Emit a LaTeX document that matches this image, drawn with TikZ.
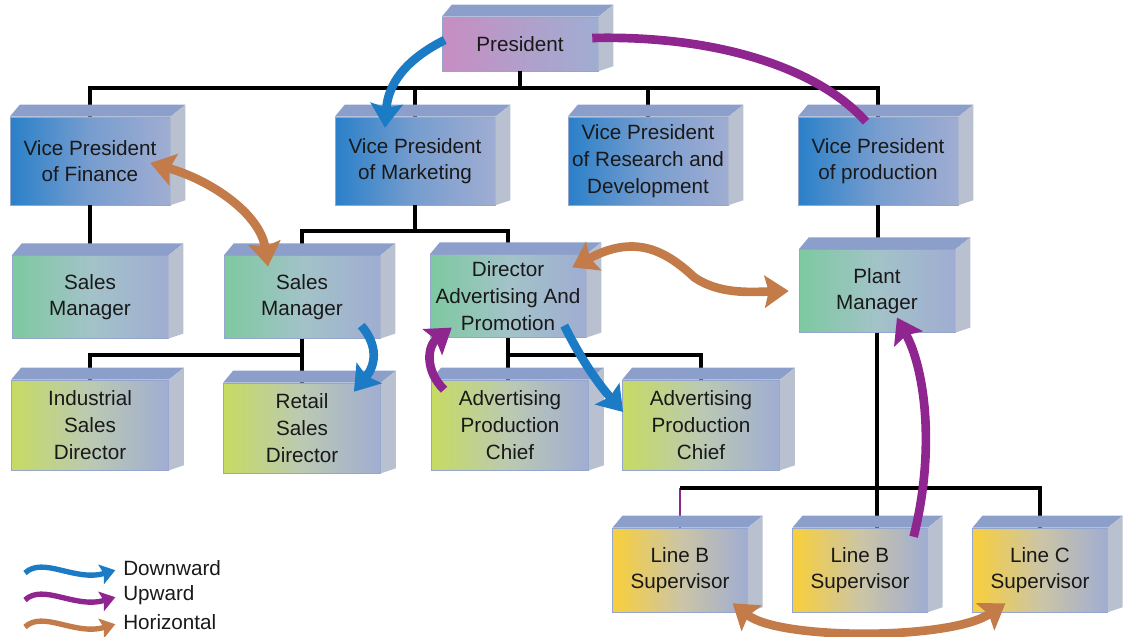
\documentclass[tikz,border=0pt]{standalone}
\usepackage{fontspec}
\setmainfont{Liberation Sans}
\usetikzlibrary{arrows.meta,calc}
\definecolor{facetop}{HTML}{8C9FCB}
\definecolor{faceside}{HTML}{B9C1D1}
\definecolor{faceright}{HTML}{A0ADD2}
\definecolor{faceedge}{HTML}{95A6CE}
\definecolor{presleft}{HTML}{C78DC1}
\definecolor{vpleft}{HTML}{2A80C9}
\definecolor{mgrleft}{HTML}{7DC9A0}
\definecolor{dirleft}{HTML}{C6DB62}
\definecolor{supleft}{HTML}{F8CF3A}
\definecolor{downblue}{HTML}{1B7BC4}
\definecolor{uppurple}{HTML}{8F2690}
\definecolor{sideorange}{HTML}{C27B49}
\tikzset{
  orgbox/.style={draw=faceedge, line width=0.4pt, align=center, inner sep=0pt,
    font=\fontsize{15.5}{20}\selectfont, text=black!90},
  presbox/.style={orgbox, left color=presleft, right color=faceright,
    middle color=presleft!45!faceright, minimum width=117pt, minimum height=40.5pt},
  vpbox/.style={orgbox, left color=vpleft, right color=faceright,
    middle color=vpleft!35!faceright, minimum width=120pt, minimum height=66pt},
  mgrbox/.style={orgbox, left color=mgrleft, right color=faceright,
    middle color=mgrleft!40!faceright!85!white, minimum width=117pt, minimum height=62pt},
  dirbox/.style={orgbox, left color=dirleft, right color=faceright,
    middle color=dirleft!40!faceright!85!white, minimum width=118pt, minimum height=67.5pt},
  supbox/.style={orgbox, left color=supleft, right color=faceright,
    middle color=supleft!40!faceright!85!white, minimum width=101pt, minimum height=63pt},
  wire/.style={line width=2.3pt, black},
  flow/.style={line width=6.5pt, -{Stealth[length=18pt, width=24pt, inset=3pt]}},
  flowboth/.style={line width=6.5pt,
    {Stealth[length=18pt, width=24pt, inset=3pt]}-{Stealth[length=18pt, width=24pt, inset=3pt]}},
  keyarrow/.style={line width=4pt, -{Stealth[length=11pt, width=15pt, inset=2pt]}, shorten >=6pt},
  keylabel/.style={anchor=west, inner sep=0pt, font=\fontsize{15.5}{20}\selectfont, text=black!90}
}

\begin{document}
\begin{tikzpicture}[x=0.75pt, y=-0.75pt]
  \useasboundingbox (0,0) rectangle (1139,636);

  \node[presbox] (pres) at (520,44) {President};
  \node[vpbox] (vpf) at (90,161) {Vice President\\of Finance};
  \node[vpbox] (vpm) at (415,161) {Vice President\\of Marketing};
  \node[vpbox] (vpr) at (648,161) {Vice President\\of Research and\\Development};
  \node[vpbox] (vpp) at (878,161) {Vice President\\of production};
  \node[mgrbox] (sml) at (90,297) {Sales\\Manager};
  \node[mgrbox] (smm) at (302,297) {Sales\\Manager};
  \node[mgrbox] (dap) at (508,296) {Director\\Advertising And\\Promotion};
  \node[mgrbox] (plant) at (877,291) {Plant\\Manager};
  \node[dirbox] (isd) at (90,425) {Industrial\\Sales\\Director};
  \node[dirbox] (rsd) at (302,428) {Retail\\Sales\\Director};
  \node[dirbox] (apc1) at (510,425) {Advertising\\Production\\Chief};
  \node[dirbox] (apc2) at (701,425) {Advertising\\Production\\Chief};
  \node[supbox] (lb1) at (680,570) {Line B\\Supervisor};
  \node[supbox] (lb2) at (860,570) {Line B\\Supervisor};
  \node[supbox] (lc) at (1040,570) {Line C\\Supervisor};

  % reporting lines
  \coordinate (bus1) at (0,88);
  \coordinate (bus2) at (0,231);
  \coordinate (bus3) at (0,355);
  \coordinate (bus4) at (0,488);
  \draw[wire] (pres.south) -- (pres.south |- bus1);
  \draw[wire] (vpf.north) |- (bus1 -| vpp.north) -- (vpp.north);
  \draw[wire] (vpm.north) -- (vpm.north |- bus1);
  \draw[wire] (vpr.north) -- (vpr.north |- bus1);
  \draw[wire] (vpf.south) -- (sml.north);
  \draw[wire] (vpm.south) -- (vpm.south |- bus2);
  \draw[wire] (smm.north) |- (bus2 -| dap.north) -- (dap.north);
  \draw[wire] (smm.south) -- (rsd.north);
  \draw[wire] (isd.north) |- (bus3 -| smm.south);
  \draw[wire] (dap.south) -- (dap.south |- apc1.north);
  \draw[wire] (dap.south |- bus3) -| (apc2.north);
  \draw[wire] (vpp.south) -- (vpp.south |- plant.north);
  \draw[wire] (plant.south) -- (plant.south |- lb2.north);
  \draw[uppurple, line width=1pt] (lb1.north) -- (lb1.north |- bus4);
  \draw[wire] (lb1.north |- bus4) -- (lc.north |- bus4) -- (lc.north);

  % top and side faces of the blocks
  \foreach \n in {pres,vpf,vpm,vpr,vpp,sml,smm,dap,plant,isd,rsd,apc1,apc2,lb1,lb2,lc} {
    \fill[facetop] (\n.north west) -- ++(10,-12) -- ($(\n.north east)+(15,-12)$)
      -- (\n.north east) -- cycle;
    \fill[faceside] (\n.north east) -- ++(15,-12) -- ($(\n.south east)+(15,-5)$)
      -- (\n.south east) -- cycle;
  }

  % communication flows
  \draw[flow, downblue] ($(pres.west)+(3,-4)$) .. controls +(-40,20) and +(3,-43)
    .. ($(vpm.north)+(-30,11)$);
  \draw[uppurple, line width=6.5pt] ($(pres.east)+(-6,-6)$) .. controls +(128,-3) and +(-46,-52)
    .. ($(vpp.north)+(-12,5)$);
  \draw[flowboth, sideorange] ($(vpf.east)+(-20,2)$) .. controls +(60,17) and +(-8,-53)
    .. ($(smm.north)+(-34,11)$);
  \draw[flow, downblue] ($(smm.south east)+(-19,-13)$) .. controls +(17,20) and +(22,-27)
    .. ($(rsd.north east)+(-27,9)$);
  \draw[flow, uppurple] ($(apc1.north west)+(13,10)$) .. controls +(-20,-20) and +(-24,18)
    .. ($(dap.south west)+(22,-10)$);
  \draw[flowboth, sideorange] ($(dap.north east)+(-14,13)$) .. controls +(62,-33) and +(-30,-28)
    .. ($(dap.east)!.5!(plant.west)+(2,-16)$) .. controls +(25,17) and +(-38,1)
    .. ($(plant.west)+(-10,0)$);
  \draw[flow, downblue] ($(dap.south east)+(-22,-12)$) .. controls +(15,30) and +(-28,-32)
    .. ($(apc2.west)+(1,-13)$);
  \draw[flow, uppurple] ($(lb2.north east)+(-14,9)$) .. controls +(22,-87) and +(28,52)
    .. ($(plant.south)+(20,-15)$);
  \draw[flowboth, sideorange] ($(lb1.south east)+(-15,-9)$) .. controls +(47,37) and +(-55,37)
    .. ($(lc.south west)+(33,-9)$);

  % key
  \node[keylabel] (keydown) at (123,568) {Downward};
  \node[keylabel] (keyup) at (123,595) {Upward};
  \node[keylabel] (keyside) at (123,622) {Horizontal};
  \coordinate (kd) at (25,573);
  \coordinate (ku) at (25,600);
  \coordinate (ks) at (25,627);
  \draw[keyarrow, downblue] (kd) .. controls +(18,-17) and +(-48,14) .. (keydown.west);
  \draw[keyarrow, uppurple] (ku) .. controls +(18,-17) and +(-48,14) .. (keyup.west);
  \draw[keyarrow, sideorange] (ks) .. controls +(18,-17) and +(-48,14) .. (keyside.west);
\end{tikzpicture}
\end{document}
